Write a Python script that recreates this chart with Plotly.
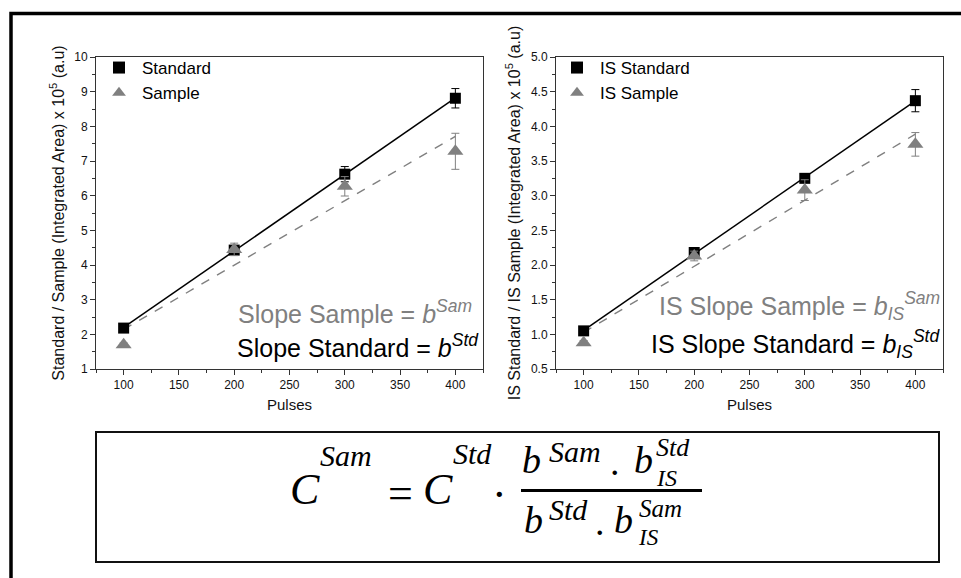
import numpy as np
import plotly.graph_objects as go

# ---------------- data ----------------
pulses = [100, 200, 300, 400]
std_area = [2.18, 4.43, 6.62, 8.81]
std_err = [0.05, 0.10, 0.22, 0.28]
sam_area = [1.70, 4.45, 6.27, 7.28]
sam_err = [0.05, 0.18, 0.28, 0.52]
is_std_area = [1.05, 2.18, 3.25, 4.37]
is_std_err = [0.03, 0.05, 0.06, 0.16]
is_sam_area = [0.88, 2.13, 3.08, 3.74]
is_sam_err = [0.03, 0.07, 0.15, 0.17]

W, H = 961, 578
BLACK = "#000000"
GRAY = "#808080"
SANS = "Liberation Sans, Arial, sans-serif"
SERIF = "Liberation Serif, Times New Roman, serif"


def px(x):
    return x / W


def py(y):
    return 1 - y / H


def fit_line(x, y):
    b, a = np.polyfit(x, y, 1)
    xs = np.array([min(x), max(x)])
    return xs, a + b * xs


fig = go.Figure()


def add_series(x, y, err, name, symbol, size, color, xa, ya, legend):
    fig.add_trace(go.Scatter(
        x=x, y=y, mode="markers", name=name,
        marker=dict(symbol=symbol, size=size, color=color),
        error_y=dict(type="data", array=err, visible=True, color=color,
                     thickness=1, width=4),
        xaxis=xa, yaxis=ya, legend=legend))


def add_fit(x, y, color, dash, xa, ya):
    xs, ys = fit_line(x, y)
    fig.add_trace(go.Scatter(
        x=xs, y=ys, mode="lines", showlegend=False,
        line=dict(color=color, width=1.5 if dash == "solid" else 1.4, dash=dash),
        xaxis=xa, yaxis=ya))


# left panel
add_fit(pulses, sam_area, GRAY, "dash", "x", "y")
add_fit(pulses, std_area, BLACK, "solid", "x", "y")
add_series(pulses, std_area, std_err, "Standard", "square", 11, BLACK, "x", "y", "legend")
add_series(pulses, sam_area, sam_err, "Sample", "triangle-up", 14, GRAY, "x", "y", "legend")

# right panel
add_fit(pulses, is_sam_area, GRAY, "dash", "x2", "y2")
add_fit(pulses, is_std_area, BLACK, "solid", "x2", "y2")
add_series(pulses, is_std_area, is_std_err, "IS Standard", "square", 11, BLACK, "x2", "y2", "legend2")
add_series(pulses, is_sam_area, is_sam_err, "IS Sample", "triangle-up", 14, GRAY, "x2", "y2", "legend2")

axis_common = dict(
    showline=True, linecolor="#333333", linewidth=1, mirror=True,
    ticks="outside", ticklen=5, tickwidth=1, tickcolor="#333333",
    showgrid=False, zeroline=False,
    tickfont=dict(family=SANS, size=12, color="#111111"),
)
xcommon = dict(axis_common, range=[75, 425], tick0=100, dtick=50,
               minor=dict(ticks="outside", ticklen=3, dtick=25, tick0=75, tickcolor="#333333"),
               title=dict(text="Pulses", font=dict(family=SANS, size=15, color="#111111"), standoff=8))

legend_common = dict(xanchor="left", yanchor="top", bgcolor="rgba(0,0,0,0)",
                     font=dict(family=SANS, size=17, color=BLACK),
                     tracegroupgap=0, itemsizing="constant", itemwidth=36)

fig.update_layout(
    width=W, height=H,
    margin=dict(l=0, r=0, t=0, b=0, autoexpand=False),
    paper_bgcolor="white", plot_bgcolor="white",
    font=dict(family=SANS, color=BLACK),
    xaxis=dict(xcommon, domain=[px(96), px(483)], anchor="y"),
    yaxis=dict(axis_common, domain=[py(369), py(57)], anchor="x",
               range=[1, 10], dtick=1, tick0=0,
               minor=dict(ticks="outside", ticklen=3, dtick=0.5, tick0=0, tickcolor="#333333"),
               title=dict(text="Standard / Sample (Integrated Area) x 10<sup>5</sup> (a.u)",
                          font=dict(family=SANS, size=16, color="#111111"), standoff=5)),
    xaxis2=dict(xcommon, domain=[px(556), px(943)], anchor="y2"),
    yaxis2=dict(axis_common, domain=[py(369), py(57)], anchor="x2",
                range=[0.5, 5.0], dtick=0.5, tick0=0, tickformat=".1f",
                minor=dict(ticks="outside", ticklen=3, dtick=0.25, tick0=0, tickcolor="#333333"),
                title=dict(text="IS Standard / IS Sample (Integrated Area) x 10<sup>5</sup> (a.u)",
                           font=dict(family=SANS, size=16, color="#111111"), standoff=6)),
    legend=dict(legend_common, x=px(96), y=py(50)),
    legend2=dict(legend_common, x=px(554), y=py(50)),
    showlegend=True,
)

# outer frame and formula box
fig.add_shape(type="rect", xref="paper", yref="paper",
              x0=px(11), x1=px(975), y0=py(590), y1=py(13.5),
              line=dict(color=BLACK, width=3.5), fillcolor="rgba(0,0,0,0)")
fig.add_shape(type="rect", xref="paper", yref="paper",
              x0=px(96), x1=px(939), y0=py(562), y1=py(432),
              line=dict(color="#111111", width=2), fillcolor="rgba(0,0,0,0)")
# fraction bar
fig.add_shape(type="line", xref="paper", yref="paper",
              x0=px(521), x1=px(702), y0=py(490.5), y1=py(490.5),
              line=dict(color=BLACK, width=3))


def txt(text, x, y, size, color=BLACK, family=SANS, xanchor="left", yanchor="middle", height=None):
    fig.add_annotation(text=text, x=px(x), y=py(y), xref="paper", yref="paper",
                       xanchor=xanchor, yanchor=yanchor, showarrow=False, height=height,
                       font=dict(family=family, size=size, color=color))


# slope labels
txt("Slope Sample = <i>b</i><sup><i>Sam</i></sup>", 474, 312, 25, GRAY, xanchor="right")
txt("Slope Standard = <i>b</i><sup><i>Std</i></sup>", 481, 346, 25, BLACK, xanchor="right")
txt("IS Slope Sample = <i>b</i><sub><i>IS</i></sub><sup><i>Sam</i></sup>", 942, 306, 25, GRAY, xanchor="right")
txt("IS Slope Standard = <i>b</i><sub><i>IS</i></sub><sup><i>Std</i></sup>", 942, 344, 25, BLACK, xanchor="right")

# formula pieces
big, mid, sup = 44, 38, 30
txt("<i>C</i>", 288, 489, big, family=SERIF)
txt("<i>Sam</i>", 318, 455, sup, family=SERIF, height=26)
txt("=", 400, 493, big, family=SERIF, xanchor="center")
txt("<i>C</i>", 421, 489, big, family=SERIF)
txt("<i>Std</i>", 451, 453, sup, family=SERIF, height=26)
txt("·", 500, 494, big, family=SERIF, xanchor="center")
# numerator
txt("<i>b</i>", 520, 460, mid, family=SERIF, height=34)
txt("<i>Sam</i>", 547, 451, sup, family=SERIF, height=26)
txt(".", 615, 462, mid, family=SERIF, xanchor="center", height=30)
txt("<i>b</i>", 632, 460, mid, family=SERIF, height=34)
txt("<i>Std</i>", 654, 447, 26, family=SERIF, height=19)
txt("<i>IS</i>", 654, 477, 24, family=SERIF, height=19)
# denominator
txt("<i>b</i>", 522, 520, mid, family=SERIF, height=34)
txt("<i>Std</i>", 547, 509, sup, family=SERIF, height=24)
txt(".", 600, 522, mid, family=SERIF, xanchor="center", height=30)
txt("<i>b</i>", 612, 520, mid, family=SERIF, height=34)
txt("<i>Sam</i>", 637, 508, 25, family=SERIF, height=19)
txt("<i>IS</i>", 636, 537, 23, family=SERIF, height=19)

fig.write_html(
    "out.html",
    config={"displayModeBar": False},
    post_script="document.body.style.margin='0px';document.body.style.overflow='hidden';",
)
